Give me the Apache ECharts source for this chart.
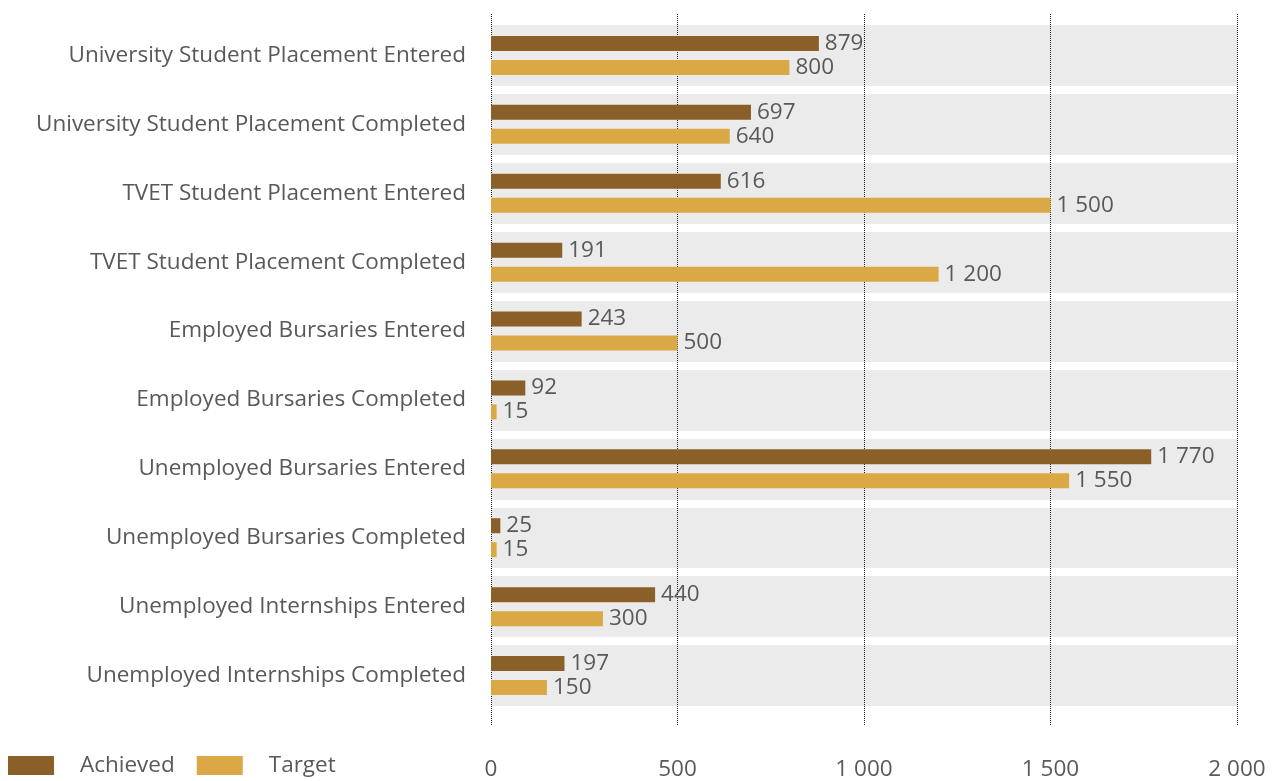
<!DOCTYPE html>
<html><head><meta charset="utf-8">
<script src="https://cdn.jsdelivr.net/npm/echarts@6/dist/echarts.min.js"></script>
<style>html,body{margin:0;padding:0;background:#fff}#c{width:1275px;height:781px}</style>
</head><body><div id="c"></div>
<script>
const categories = [
  'University Student Placement Entered',
  'University Student Placement Completed',
  'TVET Student Placement Entered',
  'TVET Student Placement Completed',
  'Employed Bursaries Entered',
  'Employed Bursaries Completed',
  'Unemployed Bursaries Entered',
  'Unemployed Bursaries Completed',
  'Unemployed Internships Entered',
  'Unemployed Internships Completed'
];
const achieved = [879, 697, 616, 191, 243, 92, 1770, 25, 440, 197];
const target = [800, 640, 1500, 1200, 500, 15, 1550, 15, 300, 150];
const seriesNames = ['Achieved', 'Target'];
const xTicks = [0, 500, 1000, 1500, 2000];

const fmt = v => String(v).replace(/\B(?=(\d{3})+(?!\d))/g, ' ');
const FONT = 'Open Sans';
const FS = 22.5;
const TXT = '#595959';
const chart = echarts.init(document.getElementById('c'));
chart.setOption({
  animation: false,
  textStyle: { fontFamily: FONT },
  legend: {
    left: 8, bottom: 4, padding: 0,
    itemWidth: 46, itemHeight: 19, itemGap: 22,
    icon: 'rect',
    data: seriesNames,
    textStyle: { fontSize: FS, color: TXT, fontFamily: FONT, padding: [0, 0, 0, 21] }
  },
  grid: [
    { left: 491, right: 38, top: 14, bottom: 53 },
    { left: 491, right: 38, top: 21, bottom: 71 }
  ],
  xAxis: [
    {
      gridIndex: 0, type: 'value', min: xTicks[0], max: xTicks[xTicks.length - 1], interval: 500, z: 1,
      axisLine: { show: false }, axisTick: { show: false },
      axisLabel: { fontSize: FS, color: TXT, margin: 32, formatter: fmt, fontFamily: FONT },
      splitLine: { show: true, lineStyle: { color: '#222', type: 'dotted', width: 1 } }
    },
    {
      gridIndex: 1, type: 'value', min: xTicks[0], max: xTicks[xTicks.length - 1], interval: 500, show: false,
      splitLine: { show: false }
    }
  ],
  yAxis: [
    { gridIndex: 0, type: 'value', show: false, splitLine: { show: false } },
    {
      gridIndex: 1, type: 'category', inverse: true, data: categories, z: 0,
      axisLine: { show: false }, axisTick: { show: false },
      axisLabel: { fontSize: FS, color: TXT, margin: 25, fontFamily: FONT },
      splitArea: { show: true, areaStyle: { color: ['#ebebeb'] } },
      splitLine: { show: true, lineStyle: { color: '#ffffff', width: 8 } }
    }
  ],
  series: [
    {
      name: seriesNames[0], type: 'bar', xAxisIndex: 1, yAxisIndex: 1, data: achieved,
      barWidth: 15, barGap: '60%', z: 3,
      itemStyle: { color: '#8a5f28' },
      label: { show: true, position: 'right', distance: 6, fontSize: FS, color: TXT, formatter: p => fmt(p.value), fontFamily: FONT }
    },
    {
      name: seriesNames[1], type: 'bar', xAxisIndex: 1, yAxisIndex: 1, data: target,
      barWidth: 15, z: 3,
      itemStyle: { color: '#daa844' },
      label: { show: true, position: 'right', distance: 6, fontSize: FS, color: TXT, formatter: p => fmt(p.value), fontFamily: FONT }
    }
  ]
});
</script></body></html>
